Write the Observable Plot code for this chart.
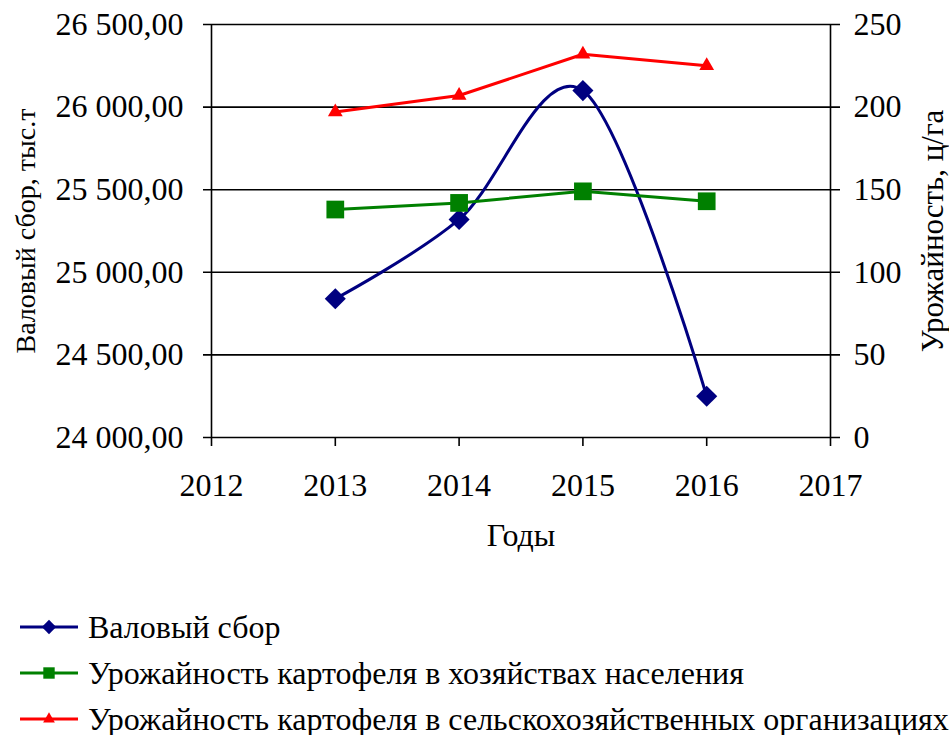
<!DOCTYPE html>
<html>
<head>
<meta charset="utf-8">
<script src="https://cdn.jsdelivr.net/npm/d3@7"></script>
<script src="https://cdn.jsdelivr.net/npm/@observablehq/plot@0.6"></script>
<style>
  body { margin: 0; background: #fff; font-family: "Liberation Serif", serif; }
  #legend { padding-top: 24px; padding-left: 20px; font-family: "Liberation Serif", serif; font-size: 32px; }
  .row { height: 46px; display: flex; align-items: center; color: #000; white-space: nowrap; }
  .row svg { margin-right: 10px; flex: none; }
</style>
</head>
<body>
<div id="chart"></div>
<div id="legend"></div>
<script>
const years = [2013, 2014, 2015, 2016];
const grossHarvest = [24840, 25320, 26100, 24250];        // тыс.т, left axis
const yieldHouseholds = [138, 142, 149, 143];             // ц/га, right axis
const yieldOrganizations = [197, 207, 232, 225];          // ц/га, right axis
const xTicks = [2012, 2013, 2014, 2015, 2016, 2017];
const leftTicks = [24000, 24500, 25000, 25500, 26000, 26500];
const rightTicks = [0, 50, 100, 150, 200, 250];
const seriesNames = ["Валовый сбор", "Урожайность картофеля в хозяйствах населения", "Урожайность картофеля в сельскохозяйственных организациях"];
const colors = ["#000080", "#008000", "#FF0000"];

// right axis mapped onto left scale: 0..250 -> 24000..26500
const toLeft = v => 24000 + v * 10;
const fromLeft = d => (d - 24000) / 10;

const ruLocale = d3.formatLocale({decimal: ",", thousands: " ", grouping: [3], currency: ["", ""]});
const fmtLeft = ruLocale.format(",.2f");

const gross = years.map((y, i) => ({year: y, v: grossHarvest[i]}));
const house = years.map((y, i) => ({year: y, v: toLeft(yieldHouseholds[i])}));
const orgs = years.map((y, i) => ({year: y, v: toLeft(yieldOrganizations[i])}));

const chart = Plot.plot({
  width: 949,
  height: 580,
  marginLeft: 211,
  marginRight: 119,
  marginTop: 24,
  marginBottom: 143,
  style: {fontFamily: "Liberation Serif, serif", fontSize: "32px", color: "#000", background: "#fff"},
  x: {domain: [2012, 2017]},
  y: {domain: [24000, 26500]},
  marks: [
    Plot.ruleY(leftTicks, {stroke: "#000", strokeWidth: 1.6, insetLeft: -8, insetRight: -10}),
    Plot.ruleX([2012, 2017], {stroke: "#000", strokeWidth: 1.6}),
    Plot.axisX({ticks: xTicks, tickFormat: d => String(d), tickSize: 9, tickPadding: 27, label: null, strokeWidth: 1.6}),
    Plot.axisY({ticks: leftTicks, tickFormat: fmtLeft, tickSize: 0, tickPadding: 28, label: null}),
    Plot.axisY({anchor: "right", ticks: rightTicks.map(toLeft), tickFormat: d => String(fromLeft(d)), tickSize: 0, tickPadding: 23, label: null}),
    Plot.text(["Валовый сбор, тыс.т"], {frameAnchor: "left", textAnchor: "middle", dx: -185, rotate: -90, fill: "#000", fontSize: 28}),
    Plot.text(["Урожайность, ц/га"], {frameAnchor: "right", textAnchor: "middle", dx: 103, rotate: -90, fill: "#000", fontSize: 31}),
    Plot.text(["Годы"], {frameAnchor: "bottom", dy: 108, fill: "#000"}),
    Plot.line(gross, {x: "year", y: "v", stroke: colors[0], strokeWidth: 3, curve: "cardinal"}),
    Plot.line(house, {x: "year", y: "v", stroke: colors[1], strokeWidth: 3}),
    Plot.line(orgs, {x: "year", y: "v", stroke: colors[2], strokeWidth: 3}),
    Plot.dot(gross, {x: "year", y: "v", symbol: "diamond2", r: 9.5, fill: colors[0], stroke: "none"}),
    Plot.dot(house, {x: "year", y: "v", symbol: "square", r: 10, fill: colors[1], stroke: "none"}),
    Plot.dot(orgs, {x: "year", y: "v", symbol: "triangle", r: 5.5, fill: colors[2], stroke: "none"})
  ]
});
document.getElementById("chart").appendChild(chart);

// legend
const symbolsLegend = [d3.symbolDiamond2, d3.symbolSquare, d3.symbolTriangle];
const sizesLegend = [130, 130, 60];
const legend = document.getElementById("legend");
seriesNames.forEach((name, i) => {
  const row = document.createElement("div");
  row.className = "row";
  const path = d3.symbol(symbolsLegend[i], sizesLegend[i])();
  row.innerHTML = `<svg width="58" height="30" viewBox="0 0 58 30"><line x1="0" x2="58" y1="15" y2="15" stroke="${colors[i]}" stroke-width="3"/><path transform="translate(29,15)" d="${path}" fill="${colors[i]}"/></svg><span>${name}</span>`;
  legend.appendChild(row);
});
</script>
</body>
</html>
